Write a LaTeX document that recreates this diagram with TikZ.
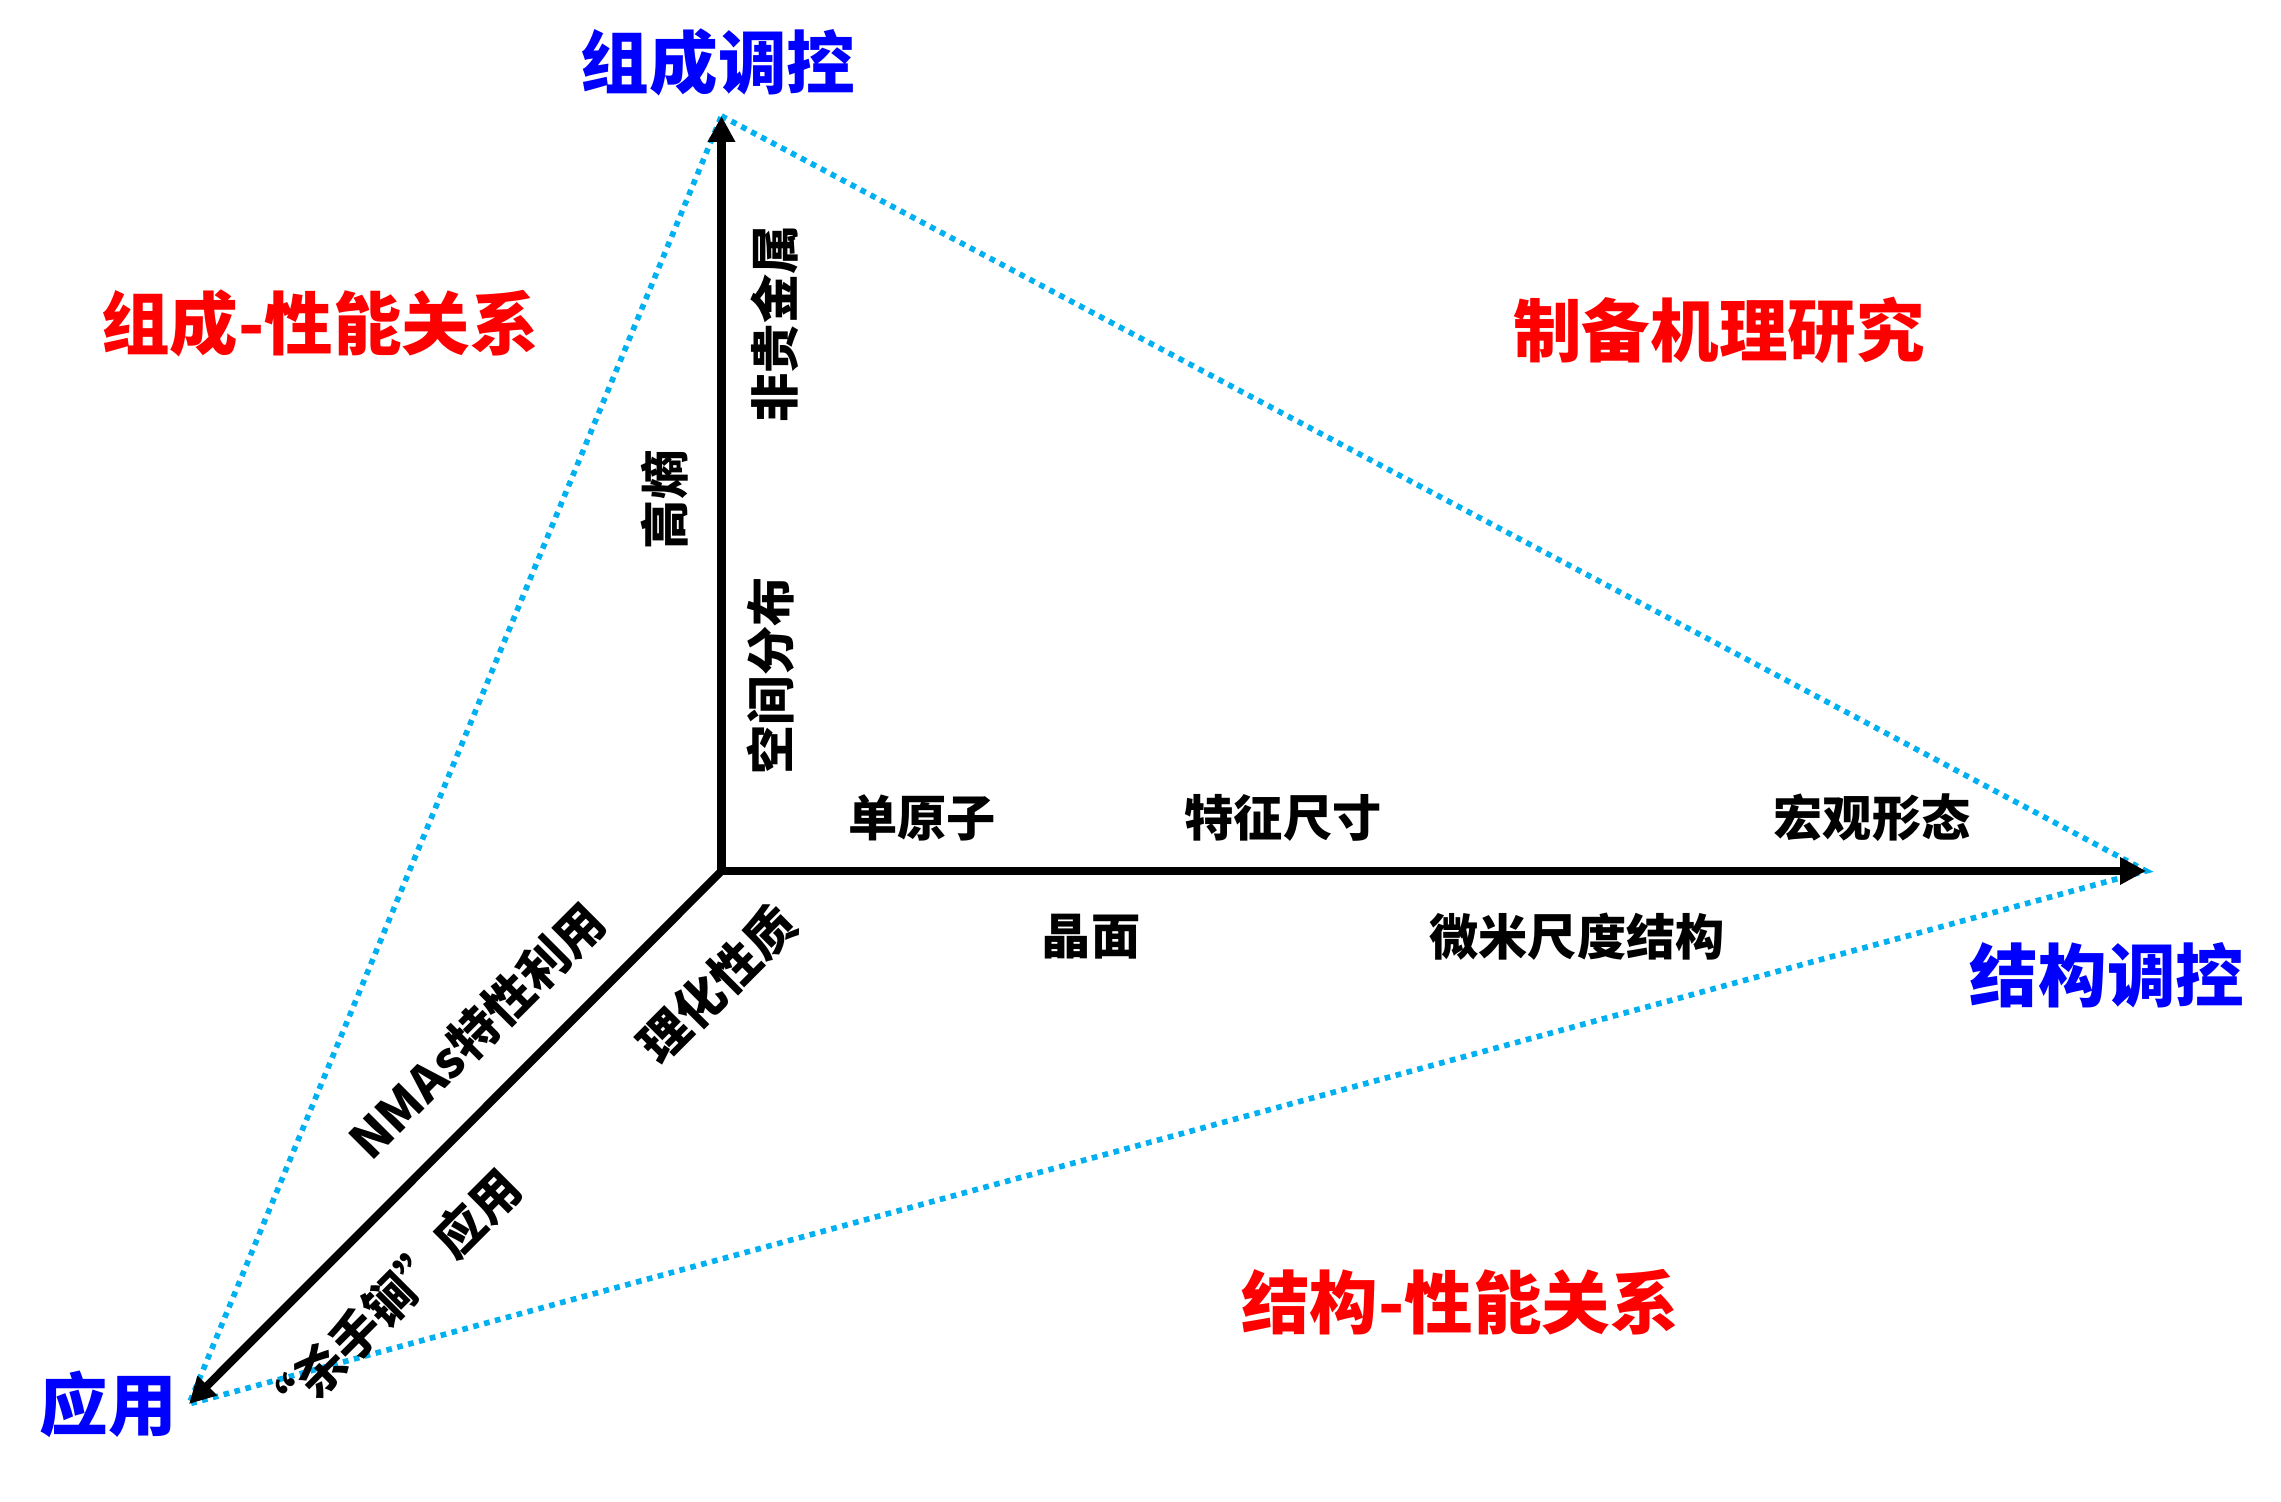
\documentclass[tikz,border=0pt]{standalone}
\usepackage{fontspec}
\newfontfamily\cjkfont{Noto Sans CJK SC}
\usepackage{xcolor}
\usepackage{tikz}
\usetikzlibrary{arrows.meta}

\definecolor{tieblue}{RGB}{0,176,240}

\begin{document}
\begin{tikzpicture}[
  axisline/.style={line width=2.3pt},
  tieline/.style={tieblue, line width=1.6pt, dash pattern=on 1.6pt off 1.6pt},
  endlabel/.style={
    text=blue, inner sep=0pt,
    font=\cjkfont\bfseries\fontsize{19.5pt}{22pt}\selectfont
  },
  relation/.style={
    text=red, inner sep=0pt,
    font=\cjkfont\bfseries\fontsize{19.5pt}{22pt}\selectfont
  },
  feature/.style={
    inner sep=0pt,
    font=\cjkfont\bfseries\fontsize{14pt}{16pt}\selectfont
  }
]
\useasboundingbox (0,0) rectangle (22.81,15.02);

% Corner and axis ends
\coordinate (O) at (7.215,6.31);
\coordinate (comp) at (7.215,13.86);
\coordinate (struct) at (21.46,6.31);
\coordinate (app) at (1.89,0.98);

% Dotted triangle between the axis ends
\draw[tieline] (comp) -- (struct) -- (app) -- cycle;

% Axes
\draw[axisline, {Triangle[length=2.6mm, width=2.6mm]}-{Triangle[length=2.6mm, width=2.6mm]}]
  (comp) -- (O) -- (struct);
\draw[axisline, -{Triangle[length=2.6mm, width=2.6mm]}] (O) -- (app);

% Axis names
\node[endlabel] (compname) at (7.18,14.40) {组成调控};
\node[endlabel] (structname) at (21.07,5.27) {结构调控};
\node[endlabel] (appname) at (1.08,0.98) {应用};

% Relations
\node[relation] (comprel) at (3.20,11.79) {组成-性能关系};
\node[relation] (prep) at (17.19,11.72) {制备机理研究};
\node[relation] (structrel) at (14.60,2.00) {结构-性能关系};

% Structure axis
\node[feature] (single) at (9.22,6.84) {单原子};
\node[feature] (size) at (12.83,6.84) {特征尺寸};
\node[feature] (macro) at (18.72,6.84) {宏观形态};
\node[feature] (facet) at (10.91,5.65) {晶面};
\node[feature] (micro) at (15.77,5.65) {微米尺度结构};

% Composition axis
\node[feature, rotate=90] (nonnoble) at (7.75,11.78) {非贵金属};
\node[feature, rotate=90] (spatial) at (7.71,8.26) {空间分布};
\node[feature, rotate=90] (entropy) at (6.65,10.02) {高熵};

% Application axis
\node[feature, rotate=45] (nmas) at (4.77,4.71) {NMAs特性利用};
\node[feature, rotate=45] (physchem) at (7.17,5.18) {理化性质};
\node[feature, rotate=45] (trump) at (3.90,2.02) {“杀手锏”应用};

\end{tikzpicture}
\end{document}
